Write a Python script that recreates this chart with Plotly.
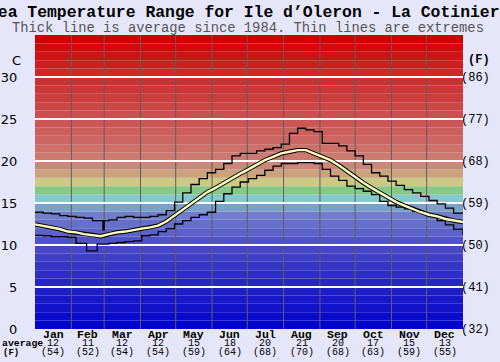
import plotly.graph_objects as go

# ---------------- data ----------------
months = ["Jan", "Feb", "Mar", "Apr", "May", "Jun",
          "Jul", "Aug", "Sep", "Oct", "Nov", "Dec"]
month_days = [31, 28, 31, 30, 31, 30, 31, 31, 30, 31, 30, 31]
month_avg_c = [12, 11, 12, 12, 15, 18, 20, 21, 20, 17, 15, 13]
month_avg_f = [54, 52, 54, 54, 59, 64, 68, 70, 68, 63, 59, 55]

avg_day = [0, 7, 14, 21, 28, 35, 42, 49, 56, 63, 70, 77, 84, 91, 98, 105, 112,
           119, 126, 133, 140, 147, 154, 161, 168, 175, 182, 189, 196, 203, 210,
           217, 224, 231, 238, 245, 252, 259, 266, 273, 280, 287, 294, 301, 308,
           315, 322, 329, 336, 343, 350, 357, 365]
avg_temp = [12.46, 12.3, 12.1, 11.9, 11.6, 11.5, 11.3, 11.2, 11.05, 11.3, 11.5,
            11.6, 11.8, 11.95, 12.1, 12.3, 12.8, 13.5, 14.2, 15.0, 15.7, 16.3,
            16.8, 17.4, 18.0, 18.5, 19.0, 19.6, 20.1, 20.5, 20.9, 21.1, 21.3,
            21.3, 20.9, 20.5, 20.1, 19.5, 18.8, 18.0, 17.4, 16.8, 16.2, 15.6,
            15.1, 14.7, 14.3, 13.9, 13.6, 13.4, 13.1, 12.9, 12.74]

max_day = [0, 7, 14, 21, 28, 35, 42, 49, 56, 58, 59, 63, 70, 77, 84, 91, 98,
           105, 112, 119, 126, 133, 140, 147, 154, 161, 168, 175, 182, 189, 196,
           203, 210, 217, 224, 231, 238, 245, 252, 259, 266, 273, 280, 287, 294,
           301, 308, 315, 322, 329, 336, 343, 350, 357, 365]
max_temp = [13.9, 13.8, 13.7, 13.5, 13.4, 13.3, 13.2, 12.9, 12.9, 11.8, 12.9,
            13.0, 13.3, 13.4, 13.3, 13.3, 13.4, 13.6, 14.1, 15.1, 16.2, 17.2,
            17.9, 18.6, 19.0, 19.7, 20.6, 20.9, 20.9, 21.2, 21.4, 21.6, 22.0,
            23.3, 23.9, 23.7, 23.5, 22.1, 22.1, 21.8, 21.2, 20.6, 19.6, 18.6,
            18.2, 17.6, 17.1, 16.6, 16.2, 15.8, 15.3, 14.9, 14.4, 13.8, 13.8]

min_day = [0, 7, 14, 21, 28, 35, 44, 53, 56, 63, 70, 77, 84, 91, 98, 105, 112,
           119, 126, 133, 140, 147, 154, 161, 168, 175, 182, 189, 196, 203, 210,
           217, 224, 231, 238, 245, 252, 259, 266, 273, 280, 287, 294, 301, 308,
           315, 322, 329, 336, 343, 350, 357, 365]
min_temp = [11.15, 11.1, 11.0, 11.0, 10.9, 10.2, 9.3, 10.1, 10.1, 10.2, 10.3,
            10.4, 10.5, 11.1, 11.2, 11.6, 11.95, 12.5, 12.9, 13.3, 13.6, 13.9,
            15.2, 16.1, 16.9, 17.5, 17.9, 18.3, 18.9, 19.4, 19.7, 19.7, 19.8,
            19.8, 19.7, 19.0, 18.2, 17.7, 17.0, 16.7, 16.4, 16.0, 15.2, 14.7,
            14.5, 14.3, 14.0, 13.8, 13.6, 12.9, 12.4, 11.9, 11.2]

c_ticks = [0, 5, 10, 15, 20, 25, 30]
f_ticks = [32, 41, 50, 59, 68, 77, 86]

# one colour per 1 degree C band, from 0 upwards
band_colors = [
    "rgb(2,2,204)", "rgb(10,10,204)", "rgb(18,18,202)", "rgb(24,24,200)",
    "rgb(30,30,198)", "rgb(38,38,198)", "rgb(46,46,198)", "rgb(54,54,198)",
    "rgb(62,62,198)", "rgb(70,70,200)", "rgb(80,82,200)", "rgb(92,98,202)",
    "rgb(102,112,202)", "rgb(112,126,202)", "rgb(122,162,200)",
    "rgb(132,202,204)", "rgb(132,202,134)", "rgb(202,202,134)",
    "rgb(202,162,124)", "rgb(204,134,122)", "rgb(204,122,112)",
    "rgb(204,112,104)", "rgb(204,102,98)", "rgb(204,94,92)",
    "rgb(204,86,86)", "rgb(204,78,78)", "rgb(204,70,70)", "rgb(204,62,62)",
    "rgb(204,56,56)", "rgb(204,48,48)", "rgb(206,40,40)", "rgb(206,30,30)",
    "rgb(206,20,20)", "rgb(206,10,10)", "rgb(206,2,2)"]

Y_MAX = 35
X_MAX = 365

# ---------------- figure ----------------
fig = go.Figure()

fig.add_trace(go.Scatter(x=max_day, y=max_temp, mode="lines",
                         line=dict(color="black", width=1.3, shape="hv"),
                         hoverinfo="skip", showlegend=False))
fig.add_trace(go.Scatter(x=min_day, y=min_temp, mode="lines",
                         line=dict(color="black", width=1.3, shape="hv"),
                         hoverinfo="skip", showlegend=False))
fig.add_trace(go.Scatter(x=avg_day, y=avg_temp, mode="lines",
                         line=dict(color="black", width=4.4),
                         hoverinfo="skip", showlegend=False))
fig.add_trace(go.Scatter(x=avg_day, y=avg_temp, mode="lines",
                         line=dict(color="rgb(255,255,190)", width=2.4),
                         hoverinfo="skip", showlegend=False))
# invisible trace to anchor the Fahrenheit axis
fig.add_trace(go.Scatter(x=avg_day, y=[t * 1.8 + 32 for t in avg_temp],
                         yaxis="y2", mode="lines", line=dict(width=0),
                         opacity=0, hoverinfo="skip", showlegend=False))

shapes = []
for i, col in enumerate(band_colors):
    shapes.append(dict(type="rect", xref="paper", yref="y", x0=0, x1=1,
                       y0=i, y1=i + 1, fillcolor=col, line=dict(width=0),
                       layer="below"))
cum = 0
for d in month_days[:-1]:
    cum += d
    shapes.append(dict(type="line", xref="x", yref="paper", x0=cum, x1=cum,
                       y0=0, y1=1, line=dict(color="rgb(95,95,95)", width=1),
                       layer="below"))

annotations = []
mono = "Liberation Mono, Courier New, monospace"
cum = 0
for m, d, c, f in zip(months, month_days, month_avg_c, month_avg_f):
    mid = cum + d / 2
    cum += d
    annotations.append(dict(x=mid, y=0, xref="x", yref="paper", text="<b>%s</b>" % m,
                            showarrow=False, yanchor="middle", yshift=-5,
                            borderpad=0,
                            font=dict(family=mono, size=11.5, color="black")))
    annotations.append(dict(x=mid, y=0, xref="x", yref="paper", text=str(c),
                            showarrow=False, yanchor="middle", yshift=-14.2,
                            borderpad=0,
                            font=dict(family=mono, size=10, color="black")))
    annotations.append(dict(x=mid, y=0, xref="x", yref="paper", text="(%d)" % f,
                            showarrow=False, yanchor="middle", yshift=-23.6,
                            borderpad=0,
                            font=dict(family=mono, size=10, color="black")))

annotations += [
    dict(x=0, y=0, xref="paper", yref="paper", text="<b>average</b>",
         showarrow=False, xanchor="left", yanchor="middle", xshift=-34,
         yshift=-14.2, borderpad=0,
         font=dict(family=mono, size=9.8, color="black")),
    dict(x=0, y=0, xref="paper", yref="paper", text="<b>(F)</b>",
         showarrow=False, xanchor="center", yanchor="middle", xshift=-24,
         yshift=-23.6, borderpad=0,
         font=dict(family=mono, size=9, color="black")),
    dict(x=0, y=32, xref="paper", yref="y", text="C", showarrow=False,
         xanchor="right", yanchor="middle", xshift=-12,
         font=dict(family="DejaVu Sans", size=13, color="black")),
    dict(x=1, y=32, xref="paper", yref="y", text="<b>(F)</b>", showarrow=False,
         xanchor="center", yanchor="middle", xshift=16,
         font=dict(family=mono, size=12, color="black")),
    dict(x=0.4977, y=1, xref="paper", yref="paper", yanchor="middle",
         text="<b>Sea Temperature Range for Ile d\u2019Oleron - La Cotiniere</b>",
         showarrow=False, yshift=22.5,
         font=dict(family=mono, size=16.4, color="black")),
    dict(x=0.4977, y=1, xref="paper", yref="paper", yanchor="middle",
         text="Thick line is average since 1984. Thin lines are extremes",
         showarrow=False, yshift=7,
         font=dict(family=mono, size=13.8, color="rgb(85,85,85)")),
]

fig.update_layout(
    width=500, height=362,
    margin=dict(l=35, r=37, t=35, b=33, pad=0, autoexpand=False),
    paper_bgcolor="rgb(230,230,250)",
    plot_bgcolor="rgb(230,230,250)",
    showlegend=False,
    hovermode=False,
    shapes=shapes,
    annotations=annotations,
    xaxis=dict(range=[0, X_MAX], showgrid=False, zeroline=False,
               showticklabels=False, ticks="", fixedrange=True,
               automargin=False),
    yaxis=dict(range=[0, Y_MAX], tickvals=c_ticks,
               ticktext=[str(v) for v in c_ticks],
               showgrid=True, gridcolor="white", gridwidth=1.6,
               zeroline=False, ticks="outside", ticklen=14,
               tickcolor="rgba(0,0,0,0)", automargin=False,
               tickfont=dict(family="DejaVu Sans", size=13, color="black"),
               fixedrange=True),
    yaxis2=dict(range=[32, 32 + Y_MAX * 1.8], overlaying="y", side="right",
                tickvals=f_ticks, ticktext=["(%d)" % v for v in f_ticks],
                showgrid=False, zeroline=False, ticks="", ticklen=0,
                ticklabelstandoff=-3,
                tickcolor="rgba(0,0,0,0)", automargin=False,
                tickfont=dict(family=mono, size=12, color="black"),
                fixedrange=True),
)

fig.write_html("out.html", config={"displayModeBar": False},
               post_script="document.body.style.margin='0';"
                           "document.body.style.background='rgb(230,230,250)';")
